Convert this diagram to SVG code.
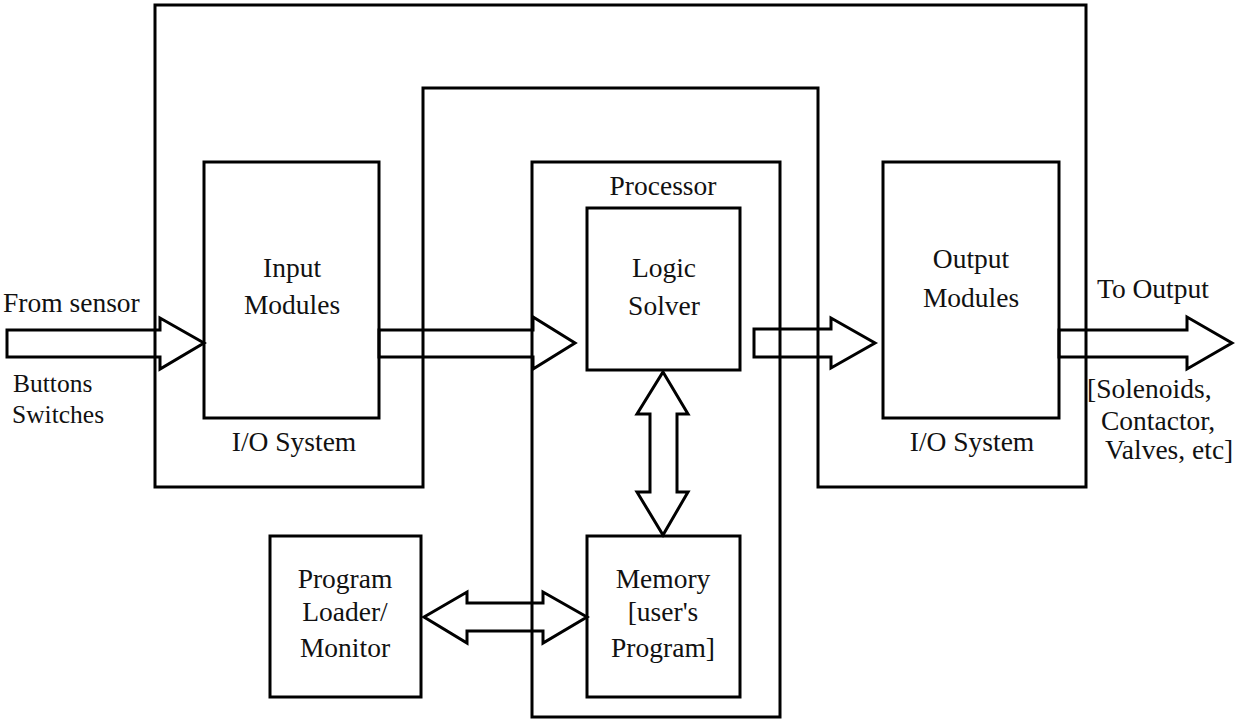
<svg xmlns="http://www.w3.org/2000/svg" width="1236" height="719" viewBox="0 0 1236 719">
<style>
.box{fill:none;stroke:#000;stroke-width:3}
.ar{fill:none;stroke:#000;stroke-width:3;stroke-linejoin:miter}
text{font-family:"Liberation Serif","Times New Roman",serif;font-size:27.5px;fill:#111}
.c{text-anchor:middle}
.s{font-size:25.5px}
</style>
<rect width="1236" height="719" fill="#fff"/>
<g id="io-system">
<polygon class="box" points="155,5 1086,5 1086,487 818,487 818,88 423,88 423,487 155,487"/>
<text class="c" x="294" y="451">I/O System</text>
<text class="c" x="972" y="451">I/O System</text>
</g>
<g id="processor">
<rect class="box" x="532" y="162" width="248" height="555"/>
<text class="c" x="663" y="195">Processor</text>
</g>
<g id="input-modules">
<rect class="box" x="204" y="162" width="175" height="256"/>
<text class="c" x="292" y="277">Input</text>
<text class="c" x="292" y="314">Modules</text>
</g>
<g id="output-modules">
<rect class="box" x="883" y="162" width="176" height="256"/>
<text class="c" x="971" y="268">Output</text>
<text class="c" x="971" y="307">Modules</text>
</g>
<g id="logic-solver">
<rect class="box" x="587" y="208" width="153" height="162"/>
<text class="c" x="664" y="277">Logic</text>
<text class="c" x="664" y="315">Solver</text>
</g>
<g id="memory">
<rect class="box" x="587" y="536" width="153" height="161"/>
<text class="c" x="663" y="588">Memory</text>
<text class="c" x="663" y="621">[user's</text>
<text class="c" x="663" y="657">Program]</text>
</g>
<g id="program-loader">
<rect class="box" x="270" y="536" width="151" height="161"/>
<text class="c" x="345" y="588">Program</text>
<text class="c" x="345" y="621">Loader/</text>
<text class="c" x="345" y="657">Monitor</text>
</g>
<g id="labels">
<text x="3" y="312">From sensor</text>
<text class="s" x="13" y="392">Buttons</text>
<text class="s" x="12" y="423">Switches</text>
<text x="1097" y="298">To Output</text>
<text x="1087" y="398">[Solenoids,</text>
<text x="1101" y="430">Contactor,</text>
<text x="1105" y="459">Valves, etc]</text>
</g>
<g id="connectors">
<polygon class="ar" points="7,330 160,330 160,318 204,343 160,369 160,357 7,357"/>
<polygon class="ar" points="379,330 533,330 533,317 575,343 533,369 533,357 379,357"/>
<polygon class="ar" points="754,329 831,329 831,318 875,343 831,368 831,357 754,357"/>
<polygon class="ar" points="1059,330 1187,330 1187,317 1232,343 1187,369 1187,357 1059,357"/>
<polygon class="ar" points="663,372 688,414 677,414 677,492 688,492 663,535 637,492 650,492 650,414 637,414"/>
<polygon class="ar" points="424,617 467,592 467,603 543,603 543,592 587,617 543,643 543,631 467,631 467,643"/>
</g>
</svg>
